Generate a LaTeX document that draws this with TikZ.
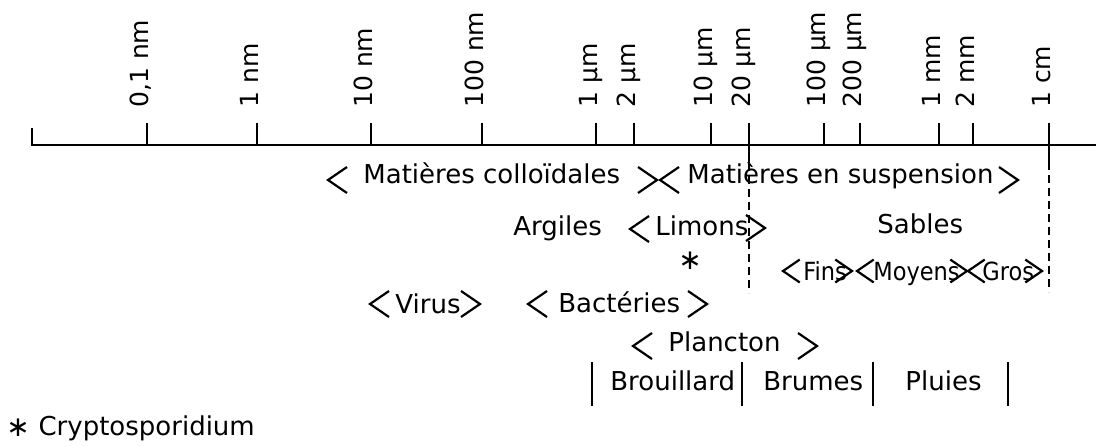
\documentclass[tikz,border=0pt]{standalone}
\usepackage{fontspec}
\setmainfont{DejaVu Sans}
\newfontfamily\condfont{DejaVu Sans Condensed}
\usetikzlibrary{positioning}

\begin{document}
\begin{tikzpicture}[
  x=0.5pt, y=-0.5pt,
  scalelabel/.style={font=\fontsize{12.5}{14}\selectfont, rotate=90, anchor=base west, inner sep=0pt},
  sizeclass/.style={font=\fontsize{13}{15}\selectfont, anchor=base west, inner sep=0pt},
  subclass/.style={sizeclass, font=\condfont\fontsize{12.5}{14}\selectfont},
  starmark/.style={font=\fontsize{14}{16}\selectfont, inner sep=0pt},
  axis/.style={line width=1pt},
  limit/.style={line width=1pt, dash pattern=on 4pt off 2.5pt},
  chev/.style={line width=1.1pt, line join=miter},
  bar/.style={line width=1.2pt},
  lchev/.pic={\draw[chev] (19,-13) -- (0,0) -- (19,13);},
  rchev/.pic={\draw[chev] (-19,-13) -- (0,0) -- (-19,13);}
]
\fill[white] (0,0) rectangle (1096,446);
\useasboundingbox (0,0) rectangle (1096,446);

% Size scale (log)
\draw[axis] (32,128) -- (32,145) -- (1096,145);
\foreach \x/\txt [count=\i] in {147/{0,1 nm}, 257/1 nm, 371/10 nm, 482/100 nm,
    596/1 µm, 634/2 µm, 711/10 µm, 749/20 µm, 824/100 µm, 860/200 µm,
    939/1 mm, 973/2 mm, 1049/1 cm}{
  \draw[axis] (\x,123) -- (\x,145);
  \node[scalelabel] (s\i) at (\x+1,108) {\txt};
}

% Limits at 20 µm and 1 cm
\draw[axis] (749,145) -- (749,163);
\draw[limit] (749,163) -- (749,293);
\draw[axis] (1049,145) -- (1049,162);
\draw[limit] (1049,162) -- (1049,292);

% Colloids / suspended matter
\node[sizeclass] (colloid) at (363,183) {Matières colloïdales};
\node[sizeclass] (suspens) at (687,183) {Matières en suspension};
\pic at (328,180) {lchev}; \pic at (657,180) {rchev};
\pic at (660,180) {lchev}; \pic at (1018,180) {rchev};

% Soil fractions
\node[sizeclass] (argiles) at (513,235) {Argiles};
\node[sizeclass] (limons) at (655,235) {Limons};
\node[sizeclass] (sables) at (877,233) {Sables};
\pic at (630,229) {lchev}; \pic at (765,228) {rchev};

% Sand grades
\node[starmark] (crypto) at (690,261) {∗};
\node[subclass] (fins) at (803,280) {Fins};
\node[subclass] (moyens) at (873,280) {Moyens};
\node[subclass] (gros) at (982,280) {Gros};
\pic[scale=0.88] at (783,271) {lchev}; \pic[scale=0.88] at (852,271) {rchev};
\pic[scale=0.88] at (857,271) {lchev}; \pic[scale=0.88] at (967,271) {rchev};
\pic[scale=0.88] at (968,271) {lchev}; \pic[scale=0.88] at (1042,271) {rchev};

% Organisms
\node[sizeclass] (virus) at (395,313) {Virus};
\node[sizeclass] (bacteries) at (558,312) {Bactéries};
\pic at (370,304) {lchev}; \pic at (480,304) {rchev};
\pic at (528,304) {lchev}; \pic at (707,304) {rchev};
\node[sizeclass] (plancton) at (668,351) {Plancton};
\pic at (633,346) {lchev}; \pic at (817,346) {rchev};

% Droplets
\node[sizeclass] (brouillard) at (610,390) {Brouillard};
\node[sizeclass] (brumes) at (763,390) {Brumes};
\node[sizeclass] (pluies) at (905,390) {Pluies};
\foreach \x in {592,742,873,1008}
  \draw[bar] (\x,362) -- (\x,406);

% Footnote
\node[starmark] (fstar) at (18,428) {∗};
\node[sizeclass, right=4pt of fstar] (footnote) {Cryptosporidium};

\end{tikzpicture}
\end{document}
